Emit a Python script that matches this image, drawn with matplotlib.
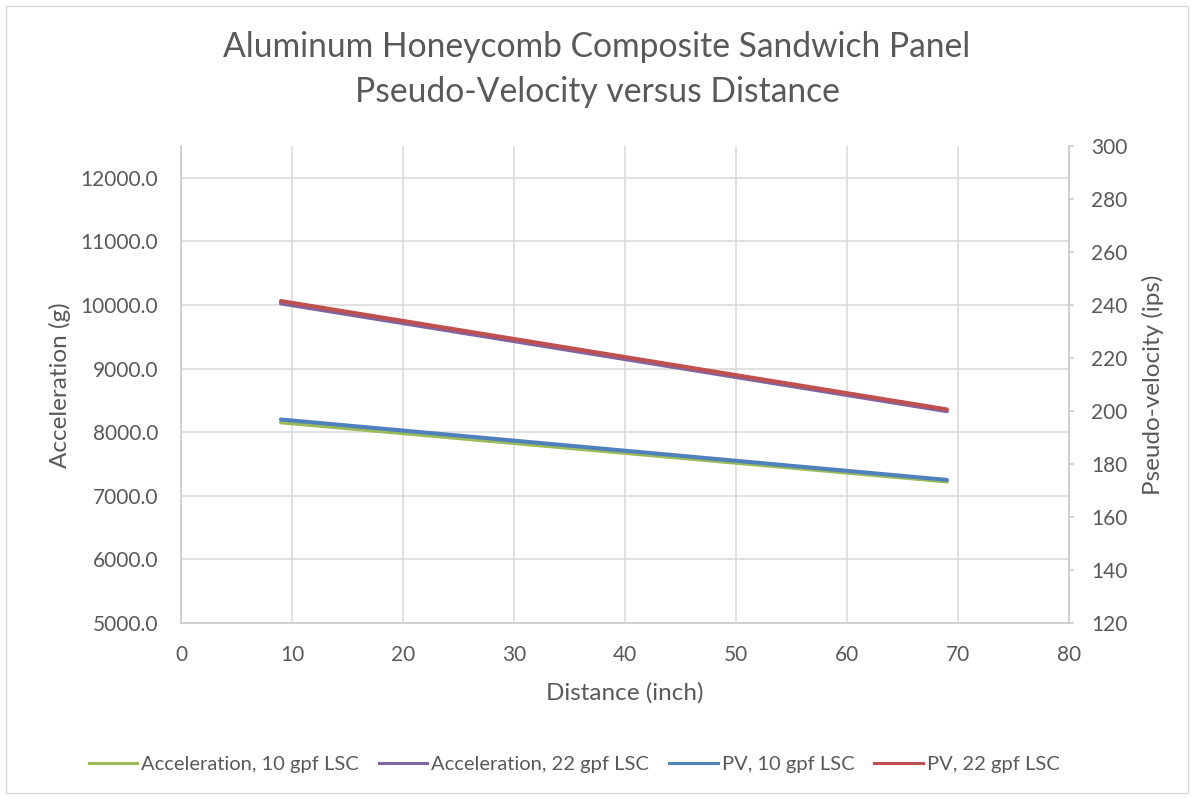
import matplotlib
matplotlib.use("Agg")
import matplotlib.pyplot as plt
from matplotlib.lines import Line2D
from matplotlib.patches import Rectangle
from matplotlib.ticker import FormatStrFormatter

# ---- data ----
distance = [9, 69]
accel_10 = [8155, 7225]
accel_22 = [10025, 8330]
pv_10 = [196.8, 174.0]
pv_22 = [241.5, 200.6]

series_names = ["Acceleration, 10 gpf LSC", "Acceleration, 22 gpf LSC",
                "PV, 10 gpf LSC", "PV, 22 gpf LSC"]
x_ticks = [0, 10, 20, 30, 40, 50, 60, 70, 80]
left_ticks = [5000, 6000, 7000, 8000, 9000, 10000, 11000, 12000]
right_ticks = [120, 140, 160, 180, 200, 220, 240, 260, 280, 300]

# ---- style ----
plt.rcParams['font.family'] = ['Lato', 'DejaVu Sans']
TXT = '#595959'
GRID = '#D9D9D9'
AXL = '#C8C8C8'
C_GREEN = '#9BBB59'
C_PURPLE = '#8064A2'
C_BLUE = '#4F81BD'
C_RED = '#C0504D'

W, H = 1194, 799
fig = plt.figure(figsize=(W / 100, H / 100), dpi=100)
fig.patch.set_facecolor('white')

L, R, T, B = 181, 1069, 146, 623
ax = fig.add_axes([L / W, 1 - B / H, (R - L) / W, (B - T) / H])
ax2 = ax.twinx()
ax2.patch.set_visible(False)

lw = 2.9
ax.plot(distance, accel_10, color=C_GREEN, lw=lw, solid_capstyle='round', zorder=3)
ax.plot(distance, accel_22, color=C_PURPLE, lw=lw, solid_capstyle='round', zorder=3)
ax2.plot(distance, pv_10, color=C_BLUE, lw=lw, solid_capstyle='round', zorder=3)
ax2.plot(distance, pv_22, color=C_RED, lw=lw, solid_capstyle='round', zorder=3)

ax.set_xlim(0, 80)
ax.set_ylim(5000, 12500)
ax2.set_ylim(120, 300)
ax.set_xticks(x_ticks)
ax.set_yticks(left_ticks)
ax2.set_yticks(right_ticks)
ax.yaxis.set_major_formatter(FormatStrFormatter('%.1f'))

ax.grid(True, color=GRID, lw=1.1, zorder=0)
ax.set_axisbelow(True)

for a in (ax, ax2):
    for s in a.spines.values():
        s.set_visible(False)
ax.spines['left'].set_visible(True)
ax.spines['left'].set_color(AXL)
ax.spines['left'].set_linewidth(1.1)
ax.spines['bottom'].set_visible(True)
ax.spines['bottom'].set_color(AXL)
ax.spines['bottom'].set_linewidth(1.1)
ax2.spines['right'].set_visible(True)
ax2.spines['right'].set_color(AXL)
ax2.spines['right'].set_linewidth(1.1)

ax.tick_params(axis='x', length=0, pad=15.5, labelsize=15, labelcolor=TXT)
ax.tick_params(axis='y', length=0, pad=16.5, labelsize=15, labelcolor=TXT)
ax2.tick_params(axis='y', length=3.6, width=1.1, color=AXL, direction='out',
                pad=12.5, labelsize=15, labelcolor=TXT)

# ---- texts ----
fig.text(597 / W, 1 - 57 / H, "Aluminum Honeycomb Composite Sandwich Panel",
         ha='center', va='baseline', fontsize=24.2, color=TXT)
fig.text(597 / W, 1 - 102 / H, "Pseudo-Velocity versus Distance",
         ha='center', va='baseline', fontsize=24.2, color=TXT)
fig.text(625 / W, 1 - 700 / H, "Distance (inch)", ha='center', va='baseline',
         fontsize=17.5, color=TXT)
fig.text(60 / W, 1 - 385 / H, "Acceleration (g)", ha='center', va='center',
         rotation=90, fontsize=17.5, color=TXT)
fig.text(1153 / W, 1 - 385 / H, "Pseudo-velocity (ips)", ha='center', va='center',
         rotation=90, fontsize=17.5, color=TXT)

# ---- legend ----
handles = [Line2D([], [], color=c, lw=2.2) for c in (C_GREEN, C_PURPLE, C_BLUE, C_RED)]
leg = fig.legend(handles, series_names, loc='center', bbox_to_anchor=(574 / W, 1 - 764 / H),
                 ncol=4, frameon=False, fontsize=14.5, handlelength=2.4,
                 handletextpad=0.2, columnspacing=1.0, borderpad=0, borderaxespad=0)
for t in leg.get_texts():
    t.set_color(TXT)

# chart-area border
fig.add_artist(Rectangle((6 / W, 6 / H), 1 - 12 / W, 1 - 12 / H, transform=fig.transFigure,
                         fill=False, edgecolor=GRID, lw=1.0))

fig.savefig('out.png', dpi=100, facecolor='white')
